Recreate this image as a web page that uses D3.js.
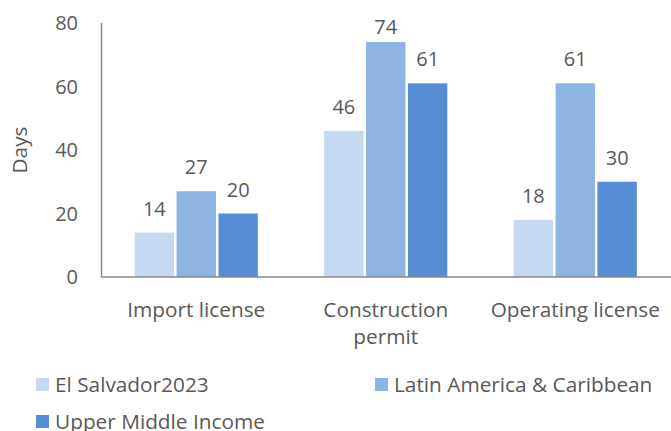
<!DOCTYPE html>
<html>
<head>
<meta charset="utf-8">
<script src="https://cdn.jsdelivr.net/npm/d3@7"></script>
<style>
  html, body { margin: 0; padding: 0; background: #fff; }
  text { font-family: "Open Sans", sans-serif; fill: #595959; }
</style>
</head>
<body>
<div id="chart"></div>
<script>
const categories = [['Import license'], ['Construction', 'permit'], ['Operating license']];
const seriesNames = ['El Salvador2023', 'Latin America & Caribbean', 'Upper Middle Income'];
const seriesColors = ['#c6d9f1', '#8eb4e3', '#558ed5'];
const elSalvador = [14, 46, 18];
const latinAmerica = [27, 74, 61];
const upperMiddle = [20, 61, 30];
const yTicks = [0, 20, 40, 60, 80];

const width = 671;
const height = 431;
const plot = { left: 101.5, right: 670, top: 23, bottom: 277 };
const numSize = 20;
const textSize = 20.8;

const seriesValues = [elSalvador, latinAmerica, upperMiddle];
const catKeys = categories.map(c => c.join(' '));

const svg = d3.select('#chart').append('svg')
  .attr('width', width)
  .attr('height', height);

const x = d3.scaleBand()
  .domain(catKeys)
  .range([plot.left, plot.right])
  .padding(0);

const groupWidth = x.bandwidth() * 0.65;
const x1 = d3.scaleBand()
  .domain(seriesNames)
  .range([0, groupWidth])
  .paddingInner(0.06);

const y = d3.scaleLinear()
  .domain([0, 80])
  .range([plot.bottom, plot.top]);

// y tick labels
svg.append('g')
  .selectAll('text')
  .data(yTicks)
  .join('text')
  .attr('x', 78)
  .attr('y', d => y(d))
  .attr('dy', '0.35em')
  .attr('text-anchor', 'end')
  .attr('font-size', numSize)
  .text(d => d);

// y axis title
svg.append('text')
  .attr('transform', `translate(27, 150) rotate(-90)`)
  .attr('text-anchor', 'middle')
  .attr('font-size', textSize)
  .text('Days');

// bars
const groups = svg.append('g')
  .selectAll('g')
  .data(catKeys)
  .join('g')
  .attr('transform', d => `translate(${x(d) + (x.bandwidth() - groupWidth) / 2}, 0)`);

groups.selectAll('rect')
  .data((d, i) => seriesNames.map((s, j) => ({ s, j, v: seriesValues[j][i] })))
  .join('rect')
  .attr('x', d => x1(d.s))
  .attr('y', d => y(d.v))
  .attr('width', x1.bandwidth())
  .attr('height', d => y(0) - y(d.v))
  .attr('fill', d => seriesColors[d.j]);

groups.selectAll('text')
  .data((d, i) => seriesNames.map((s, j) => ({ s, j, v: seriesValues[j][i] })))
  .join('text')
  .attr('x', d => x1(d.s) + x1.bandwidth() / 2)
  .attr('y', d => Math.max(y(d.v) - 17, plot.top + 11))
  .attr('text-anchor', 'middle')
  .attr('font-size', numSize)
  .text(d => d.v);

// axes lines
svg.append('line')
  .attr('x1', plot.left).attr('x2', plot.left)
  .attr('y1', plot.top).attr('y2', plot.bottom)
  .attr('stroke', '#898989').attr('stroke-width', 1.5);

svg.append('line')
  .attr('x1', plot.left - 0.75).attr('x2', width)
  .attr('y1', plot.bottom).attr('y2', plot.bottom)
  .attr('stroke', '#898989').attr('stroke-width', 1.5);

// category labels
svg.append('g')
  .selectAll('text')
  .data(categories)
  .join('text')
  .attr('x', (d, i) => x(catKeys[i]) + x.bandwidth() / 2)
  .attr('y', 317)
  .attr('text-anchor', 'middle')
  .attr('font-size', textSize)
  .selectAll('tspan')
  .data(d => d)
  .join('tspan')
  .attr('x', function () { return this.parentNode.getAttribute('x'); })
  .attr('dy', (d, i) => i === 0 ? 0 : 27)
  .text(d => d);

// legend
const legendPos = [[36, 385], [375, 385], [36, 422]];
const legend = svg.append('g')
  .selectAll('g')
  .data(seriesNames)
  .join('g')
  .attr('transform', (d, i) => `translate(${legendPos[i][0]}, ${legendPos[i][1]})`);

legend.append('rect')
  .attr('x', 0)
  .attr('y', -7)
  .attr('width', 13)
  .attr('height', 13)
  .attr('fill', (d, i) => seriesColors[i]);

legend.append('text')
  .attr('x', 19)
  .attr('y', 0)
  .attr('dy', '0.35em')
  .attr('font-size', textSize)
  .text(d => d);
</script>
</body>
</html>
